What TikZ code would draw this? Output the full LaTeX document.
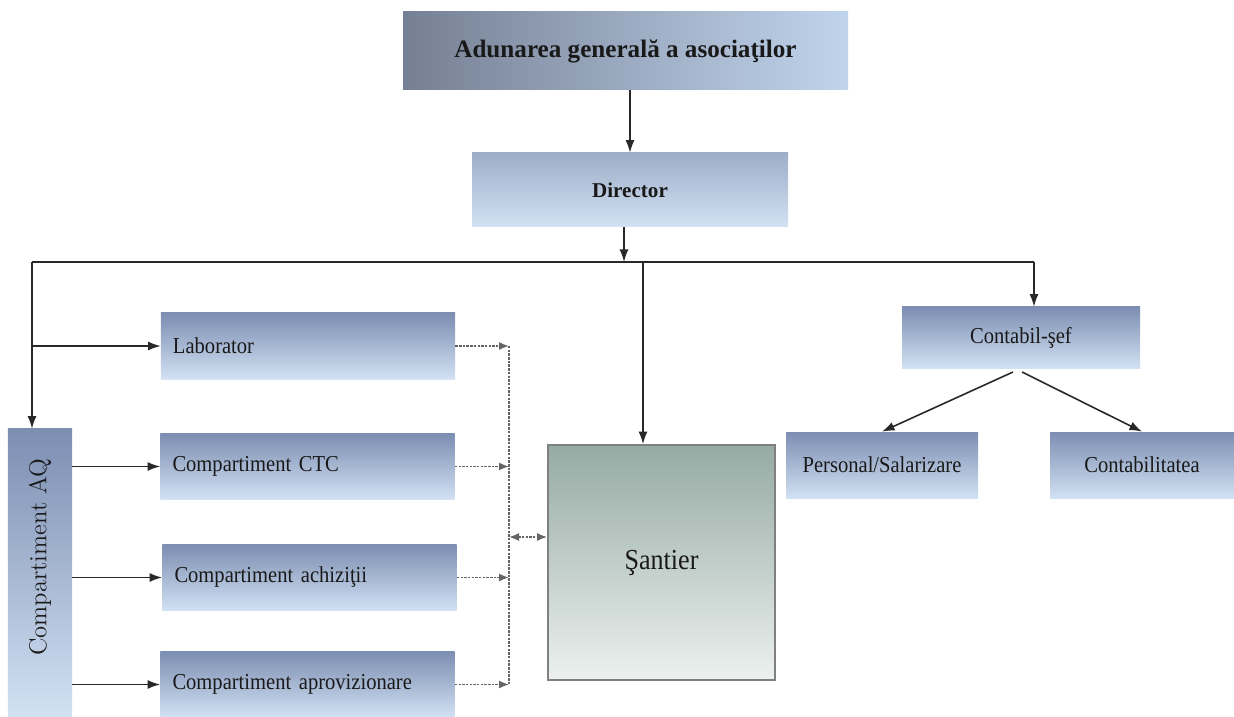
\documentclass[tikz,border=0pt]{standalone}
\usepackage{fontspec}
\usepackage{graphicx}
\usetikzlibrary{arrows.meta}
\newfontfamily\tnr[FakeStretch=0.9]{Liberation Serif}
\newfontfamily\tnrb{Liberation Serif}
\newcommand\labfont{\tnr\fontsize{13pt}{15pt}\selectfont\spaceskip=3pt\relax}
\definecolor{boxdark}{RGB}{124,142,178}
\definecolor{boxlight}{RGB}{210,225,243}
\definecolor{dirdark}{RGB}{158,174,200}
\definecolor{adunleft}{RGB}{118,128,148}
\definecolor{adunright}{RGB}{192,212,236}
\definecolor{santtop}{RGB}{150,170,164}
\definecolor{santbot}{RGB}{236,241,238}
\definecolor{linegray}{RGB}{40,40,40}
\definecolor{dotgray}{RGB}{100,100,100}
\definecolor{textblack}{RGB}{25,25,25}

\begin{document}
\begin{tikzpicture}[x=0.2mm, y=-0.2mm, >={Latex[length=2.5mm,width=1.8mm]}, font=\labfont, text=textblack,
	blue box/.style={top color=boxdark, bottom color=boxlight, inner sep=0pt},
	comp box/.style={blue box, text width=5.4cm, inner xsep=0.24cm, minimum height=1.32cm, align=left},
	sant box/.style={top color=santtop, bottom color=santbot, draw=gray, line width=1pt},
	link/.style={->, draw=linegray, line width=0.9pt},
	dotline/.style={draw=dotgray, line width=0.9pt, dash pattern=on 1.4pt off 0.7pt},
	dotlink/.style={dotline, -{Latex[length=2mm,width=1.6mm]}}]
			%cadru
			\useasboundingbox (0,0) rectangle (1234,717);
			% conducere
			\node[left color=adunleft, right color=adunright, minimum width=8.9cm, minimum height=1.56cm] (adun) at (625.5,51) {\tnrb\bfseries\fontsize{14.3pt}{16pt}\selectfont\spaceskip=0pt\relax Adunarea generală a asociaţilor};
			\node[top color=dirdark, bottom color=boxlight, minimum width=6.32cm, minimum height=1.48cm] (dir) at (630,190) {\tnrb\bfseries\fontsize{12pt}{14pt}\selectfont Director};
			% compartimente
			\node[comp box] (lab) at (308,346) {Laborator};
			\node[comp box] (ctc) at (307.5,466.5) {Compartiment CTC};
			\node[comp box] (achiz) at (309.5,577.5) {Compartiment achiziţii};
			\node[comp box] (aprov) at (307.5,684.5) {Compartiment aprovizionare};
			\node[blue box, minimum width=1.28cm, minimum height=5.76cm] (aq) at (40,573) {\rotatebox{90}{\hspace{0.64cm}\rmfamily\fontsize{14pt}{16pt}\selectfont\spaceskip=0pt\relax\addfontfeatures{LetterSpace=5}Compartiment AQ}};
			\node[sant box, minimum width=4.54cm, minimum height=4.7cm] (sant) at (661.5,562.5) {\fontsize{16.5pt}{18pt}\selectfont Şantier};
			\node[blue box, minimum width=4.76cm, minimum height=1.22cm] (contab) at (1021,337.5) {Contabil-şef};
			\node[blue box, minimum width=3.84cm, minimum height=1.32cm] (pers) at (882,465) {Personal/Salarizare};
			\node[blue box, minimum width=3.68cm, minimum height=1.32cm] (ctb) at (1142,465) {Contabilitatea};
			% legaturi sus
			\coordinate (busL) at (32,262);
			\coordinate (busR) at (1034,262);
			\coordinate (busD) at (624,262);
			\coordinate (busS) at (643,262);
			\draw[linegray, line width=0.9pt] (busL) -- (busR);
			\draw[link] (adun.south -| dir.north) -- (dir.north);
			\draw[link] (dir.south -| busD) -- (busD);
			\draw[link] (busS) -- (sant.north -| busS);
			\draw[link] (busR) -- (contab.north -| busR);
			\draw[link] (busL) -- (aq.north -| busL);
			\draw[link] (busL |- lab.west) -- (lab.west);
			% contabilitate
			\coordinate (cs1) at (1013,372);
			\coordinate (cs2) at (1022,372);
			\draw[link] (cs1) -- (pers.north);
			\draw[link] (cs2) -- (ctb.north);
			% sageti din AQ
			\foreach \n in {ctc,achiz,aprov} \draw[link] (aq.east |- \n.west) -- (\n.west);
			% linia punctata
			\coordinate (dtop) at (509,346);
			\coordinate (dbot) at (509,685);
			\coordinate (dmid) at (509,537);
			\draw[dotline] (dtop) -- (dbot);
			\foreach \n in {lab,ctc,achiz,aprov} \draw[dotlink] (\n.east) -- (\n.east -| dtop);
			\draw[dotline, {Latex[length=2mm,width=1.6mm]}-{Latex[length=2mm,width=1.6mm]}] (dmid) -- (dmid -| sant.west);
		\end{tikzpicture}
\end{document}
